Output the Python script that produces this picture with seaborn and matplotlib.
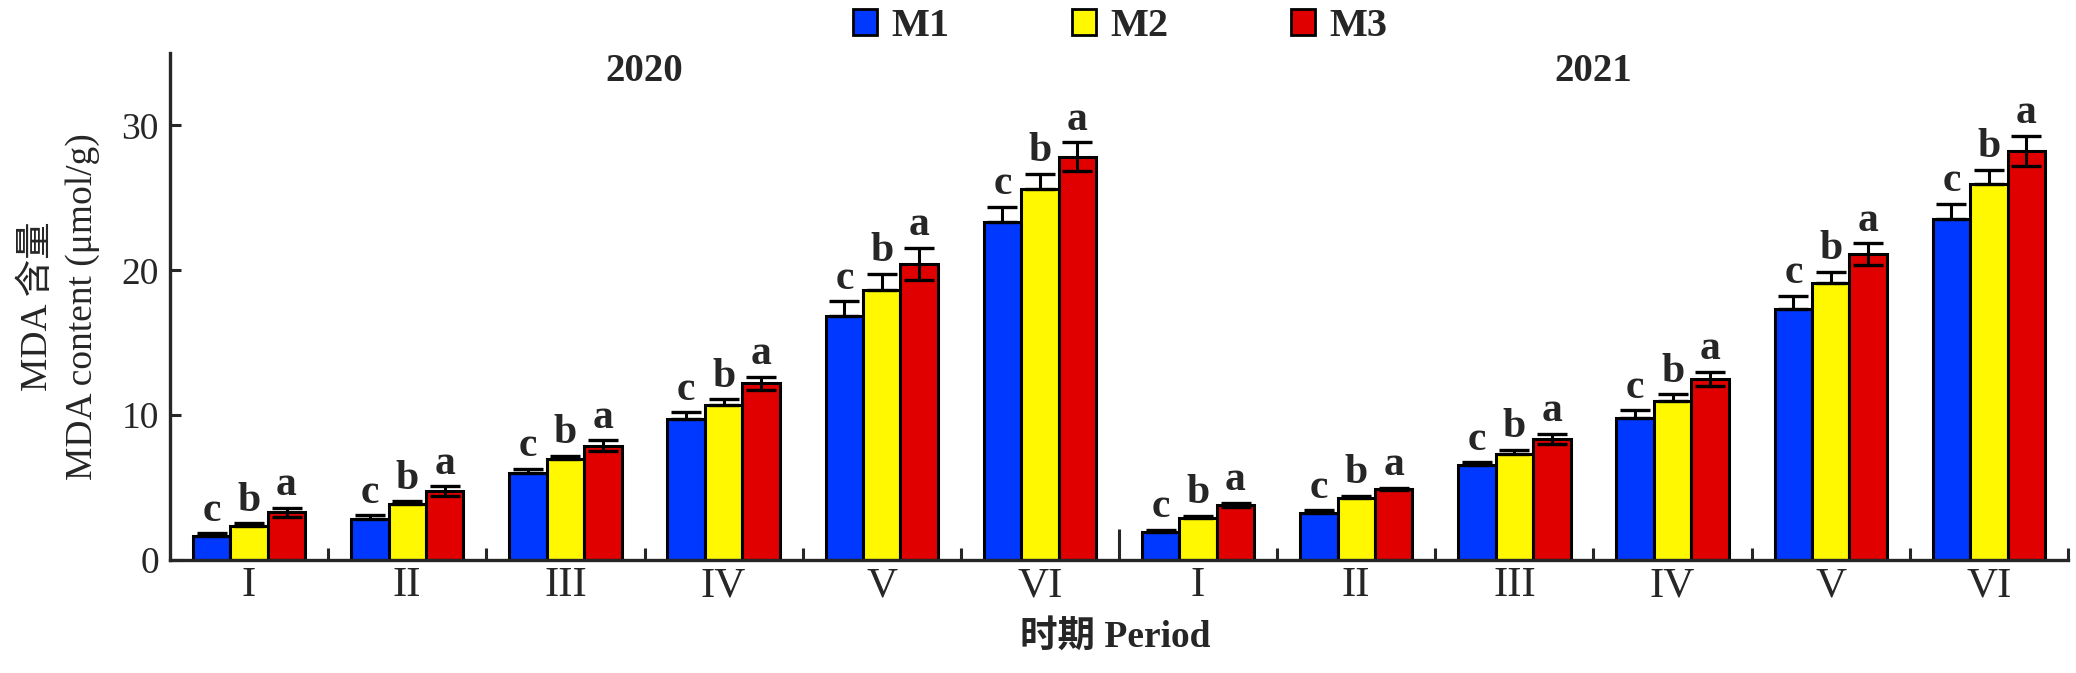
import pandas as pd
import matplotlib
matplotlib.use("Agg")
import matplotlib.pyplot as plt
import seaborn as sns
from matplotlib.patches import Patch
from matplotlib.ticker import FixedLocator

# data
periods = ["I", "II", "III", "IV", "V", "VI"]
years = ["2020", "2021"]
treatments = ["M1", "M2", "M3"]

m1_2020 = [1.65, 2.8, 6.0, 9.7, 16.85, 23.35]
m2_2020 = [2.35, 3.9, 7.0, 10.7, 18.65, 25.6]
m3_2020 = [3.3, 4.75, 7.9, 12.2, 20.45, 27.85]
m1_2021 = [1.95, 3.25, 6.55, 9.8, 17.35, 23.55]
m2_2021 = [2.9, 4.3, 7.3, 11.0, 19.1, 25.95]
m3_2021 = [3.8, 4.9, 8.35, 12.5, 21.1, 28.25]

e1_2020 = [0.2, 0.3, 0.3, 0.5, 1.0, 1.05]
e2_2020 = [0.2, 0.15, 0.2, 0.4, 1.1, 1.05]
e3_2020 = [0.3, 0.35, 0.35, 0.45, 1.1, 1.0]
e1_2021 = [0.15, 0.2, 0.2, 0.55, 0.9, 1.05]
e2_2021 = [0.15, 0.15, 0.3, 0.45, 0.8, 1.0]
e3_2021 = [0.15, 0.1, 0.35, 0.5, 0.75, 1.05]

letters = ["c", "b", "a"]

colors = ["#0038FF", "#FFF800", "#E10000"]

# build long table
values = {"M1": m1_2020 + m1_2021, "M2": m2_2020 + m2_2021, "M3": m3_2020 + m3_2021}
errors = {"M1": e1_2020 + e1_2021, "M2": e2_2020 + e2_2021, "M3": e3_2020 + e3_2021}
keys = [f"{y}-{p}" for y in years for p in periods]

rows = []
for t in treatments:
    for k, v in zip(keys, values[t]):
        rows.append({"key": k, "treat": t, "value": v})
df = pd.DataFrame(rows)

sns.set_style("ticks")
plt.rcParams["font.family"] = ["Liberation Serif", "Noto Sans CJK SC"]
plt.rcParams["axes.unicode_minus"] = False

fig = plt.figure(figsize=(20.76, 6.73), dpi=100)
ax = fig.add_axes([170 / 2076, 1 - 560 / 673, 1898 / 2076, 507 / 673])

sns.barplot(data=df, x="key", y="value", hue="treat", order=keys,
            hue_order=treatments, palette=colors, width=0.71, saturation=1,
            edgecolor="black", linewidth=2.2, errorbar=None, legend=False,
            ax=ax, zorder=2)

# error bars + significance letters
for i, (cont, t) in enumerate(zip(ax.containers, treatments)):
    xs = [b.get_x() + b.get_width() / 2 for b in cont]
    hs = [b.get_height() for b in cont]
    err = errors[t]
    if t == "M3":
        yerr = err
    else:
        yerr = [[0] * len(err), err]
    ax.errorbar(xs, hs, yerr=yerr, fmt="none", ecolor="black",
                elinewidth=2.2, capsize=11, capthick=2.4, zorder=3)
    for x, h, e in zip(xs, hs, err):
        ax.annotate(letters[i], (x, h + e), xytext=(0, 9),
                    textcoords="offset points", ha="center", va="baseline",
                    fontsize=30, fontweight="bold")

ax.set_xlim(-0.5, 11.5)
ax.set_ylim(0, 35)
ax.set_yticks([0, 10, 20, 30])
ax.set_xticks(range(len(keys)))
ax.set_xticklabels(periods * 2)

ax.xaxis.set_minor_locator(FixedLocator([i + 0.5 for i in range(12)]))
ax.tick_params(axis="x", which="major", length=0, pad=5, labelsize=31)
ax.tick_params(axis="x", which="minor", direction="in", length=9, width=2.2)
ax.tick_params(axis="y", direction="in", length=8, width=2.2, pad=8,
               labelsize=27)
ax.xaxis.get_minor_ticks()[5].tick1line.set_markersize(22)

for s in ["top", "right"]:
    ax.spines[s].set_visible(False)
for s in ["left", "bottom"]:
    ax.spines[s].set_linewidth(2.4)

ax.set_ylabel("MDA 含量\nMDA content (μmol/g)", fontsize=27,
              linespacing=1.38, va="center", multialignment="center")
ax.yaxis.set_label_coords(-0.058, 0.5)
ax.set_xlabel("时期 Period", fontsize=27, fontweight="bold", va="center")
ax.xaxis.set_label_coords(0.498, -0.152)

# year labels
ax.text(2.5, 33.7, "2020", ha="center", va="center", fontsize=28,
        fontweight="bold")
ax.text(8.5, 33.7, "2021", ha="center", va="center", fontsize=28,
        fontweight="bold")

handles = [Patch(facecolor=c, edgecolor="black", linewidth=2.0) for c in colors]
fig.legend(handles, treatments, loc="center", bbox_to_anchor=(1120 / 2076, 0.96),
           ncol=3, frameon=False, prop={"size": 29, "weight": "bold"},
           handlelength=0.6, handleheight=0.6, handletextpad=0.35,
           columnspacing=3.05)

fig.savefig("out.png", dpi=100)
